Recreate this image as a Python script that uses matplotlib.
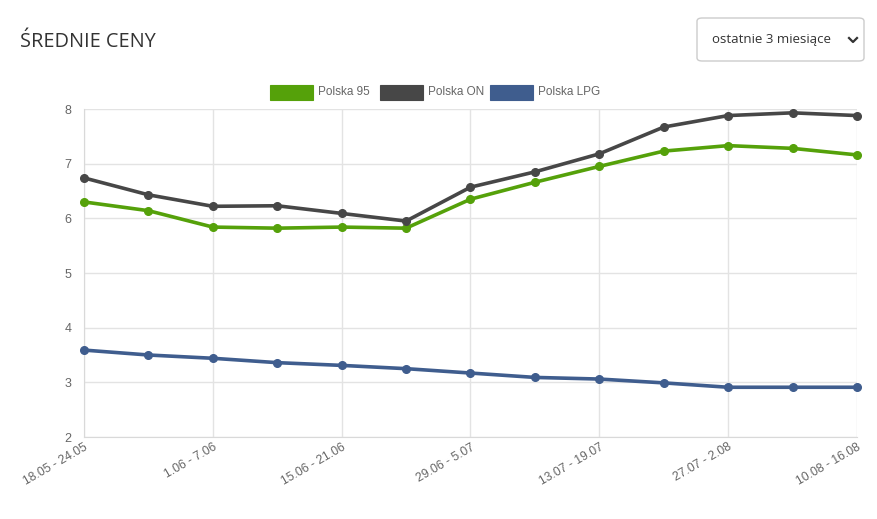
import matplotlib.pyplot as plt
from matplotlib.patches import FancyBboxPatch, Rectangle

# tygodnie (etykiety osi X)
weeks = ["18.05 - 24.05", "25.05 - 31.05", "1.06 - 7.06", "8.06 - 14.06",
         "15.06 - 21.06", "22.06 - 28.06", "29.06 - 5.07", "6.07 - 12.07",
         "13.07 - 19.07", "20.07 - 26.07", "27.07 - 2.08", "3.08 - 9.08",
         "10.08 - 16.08"]

# srednie ceny
pb95 = [6.30, 6.14, 5.84, 5.82, 5.84, 5.82, 6.35, 6.66, 6.95, 7.23, 7.33, 7.28, 7.16]
on = [6.74, 6.43, 6.22, 6.23, 6.09, 5.95, 6.57, 6.85, 7.18, 7.67, 7.88, 7.93, 7.88]
lpg = [3.59, 3.50, 3.44, 3.36, 3.31, 3.25, 3.17, 3.09, 3.06, 2.99, 2.91, 2.91, 2.91]

names = ["Polska 95", "Polska ON", "Polska LPG"]
colors = ["#55A10A", "#474747", "#3F5D8E"]

fig = plt.figure(figsize=(8.78, 5.19), dpi=100)
ax = fig.add_axes([84 / 878, 1 - 437 / 519, (857 - 84) / 878, (437 - 109) / 519])

x = list(range(len(weeks)))
for vals, c in zip([pb95, on, lpg], colors):
    ax.plot(x, vals, color=c, lw=2.6, marker="o", ms=5.5, zorder=3, clip_on=False)

ax.set_xlim(0, len(weeks) - 1)
ax.set_ylim(2, 8)
ax.set_yticks(range(2, 9))
ax.set_xticks(x[::2])
ax.set_xticklabels(weeks[::2], rotation=30, ha="right", rotation_mode="anchor",
                   fontsize=8.7, color="#666666", family="Liberation Sans")
for lab in ax.get_yticklabels():
    lab.set_fontsize(9)
    lab.set_color("#666666")
    lab.set_family("Liberation Sans")
ax.tick_params(axis="y", length=0, pad=9)
ax.tick_params(axis="x", length=0, pad=3)
ax.grid(True, color="#e3e3e3", lw=1)
ax.set_axisbelow(True)
for side in ["top", "right"]:
    ax.spines[side].set_visible(False)
for side in ["left", "bottom"]:
    ax.spines[side].set_color("#d9d9d9")

# legenda (jak w Chart.js)
leg_x = [270, 380, 490]
for lx, name, c in zip(leg_x, names, colors):
    fig.patches.append(Rectangle((lx / 878, 1 - 100 / 519), 43 / 878, 15 / 519,
                                 transform=fig.transFigure, facecolor=c,
                                 edgecolor=c, lw=0.8))
    fig.text((lx + 48) / 878, 1 - 92 / 519, name, fontsize=8.5, color="#666666",
             family="Liberation Sans", va="center")

# tytul
fig.text(20 / 878, 1 - 42 / 519, "ŚREDNIE CENY", fontsize=14.3, color="#333333",
         family="Open Sans", va="center")

# lista wyboru
box = FancyBboxPatch((697 / 878, 1 - 61 / 519), 167 / 878, 43 / 519,
                     boxstyle="round,pad=0,rounding_size=0.006",
                     transform=fig.transFigure, facecolor="white",
                     edgecolor="#cccccc", lw=1)
fig.patches.append(box)
fig.text(712 / 878, 1 - 40 / 519, "ostatnie 3 miesiące", fontsize=9.5,
         color="#333333", family="Open Sans", va="center")
fig.lines.append(plt.Line2D([849 / 878, 853 / 878, 857 / 878],
                            [1 - 38 / 519, 1 - 42 / 519, 1 - 38 / 519],
                            transform=fig.transFigure, color="#333333", lw=1.6))

fig.savefig("out.png", dpi=100)
